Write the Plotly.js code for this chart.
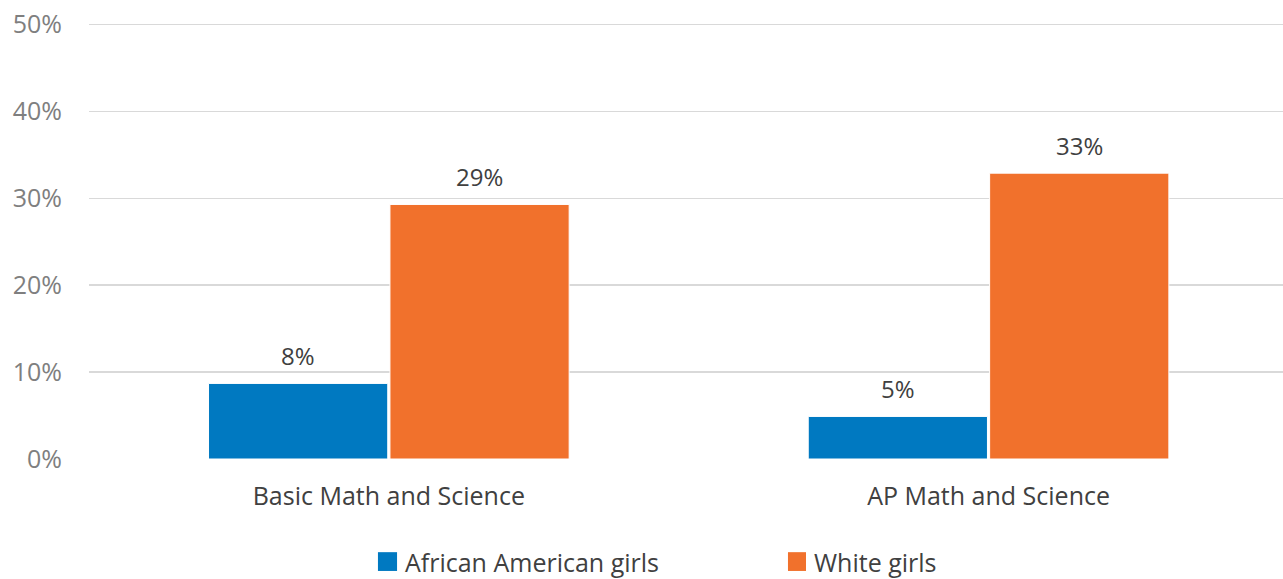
<!DOCTYPE html>
<html>
<head>
<meta charset="utf-8">
<script src="https://cdn.plot.ly/plotly-3.0.1.min.js"></script>
<style>html,body{margin:0;padding:0;background:#fff;overflow:hidden;}#chart{width:1283px;height:600px;}</style>
</head>
<body>
<div id="chart"></div>
<script>
const categories = ["Basic Math and Science", "AP Math and Science"];
const seriesNames = ["African American girls", "White girls"];
const africanAmerican = [8.7, 4.9];
const white = [29.3, 32.9];
const africanAmericanLabels = ["8%", "5%"];
const whiteLabels = ["29%", "33%"];
const yTickVals = [0, 10, 20, 30, 40, 50];
const yTickText = ["0%", "10%", "20%", "30%", "40%", "50%"];

const colors = ["#0079C1", "#F1712C"];
const FONT = "Open Sans, Noto Sans, sans-serif";
const bargap = 0.395;

const traces = [
  {type: "bar", name: seriesNames[0], x: categories, y: africanAmerican, showlegend: false,
   marker: {color: colors[0], line: {color: "#ffffff", width: 1}}, hoverinfo: "skip"},
  {type: "bar", name: seriesNames[1], x: categories, y: white, showlegend: false,
   marker: {color: colors[1], line: {color: "#ffffff", width: 1}}, hoverinfo: "skip"}
];

const off = (1 - bargap) / 4;
const annotations = [];
[[africanAmerican, africanAmericanLabels, -off], [white, whiteLabels, off]].forEach(([vals, labs, dx]) => {
  vals.forEach((v, i) => {
    annotations.push({x: i + dx, y: v, xref: "x", yref: "y", text: labs[i], showarrow: false,
      yanchor: "bottom", yshift: 9, font: {family: FONT, size: 24, color: "#404040"}});
  });
});

// manual legend (square swatches + labels) below the plot
const shapes = [];
const legendItems = [{x0: 0.2420, x1: 0.2580, tx: 0.2630}, {x0: 0.5854, x1: 0.6005, tx: 0.6055}];
legendItems.forEach((it, k) => {
  shapes.push({type: "rect", xref: "paper", yref: "paper", x0: it.x0, x1: it.x1, y0: -0.2562, y1: -0.2132,
    fillcolor: colors[k], line: {width: 0}});
  annotations.push({xref: "paper", yref: "paper", x: it.tx, y: -0.2357, xanchor: "left", yanchor: "middle",
    text: seriesNames[k], showarrow: false, font: {family: FONT, size: 25, color: "#404040"}});
});

const layout = {
  width: 1283, height: 600,
  margin: {l: 89, r: 0, t: 22, b: 141},
  paper_bgcolor: "#ffffff", plot_bgcolor: "#ffffff",
  barmode: "group", bargap: bargap, bargroupgap: 0.012,
  font: {family: FONT, color: "#404040"},
  xaxis: {type: "category", range: [-0.5, 1.491], showgrid: false, zeroline: false,
    showline: false, ticks: "", tickfont: {family: FONT, size: 25, color: "#404040"},
    ticklabelstandoff: 20},
  yaxis: {range: [0, 50.3], tickvals: yTickVals, ticktext: yTickText, showgrid: true,
    gridcolor: "#D9D9D9", gridwidth: 1.5, zeroline: false, showline: false, ticks: "",
    tickfont: {family: FONT, size: 25, color: "#7F7F7F"}, ticklabelstandoff: 26},
  showlegend: false,
  shapes: shapes,
  annotations: annotations
};

Plotly.newPlot("chart", traces, layout, {displayModeBar: false, staticPlot: true});
</script>
</body>
</html>
